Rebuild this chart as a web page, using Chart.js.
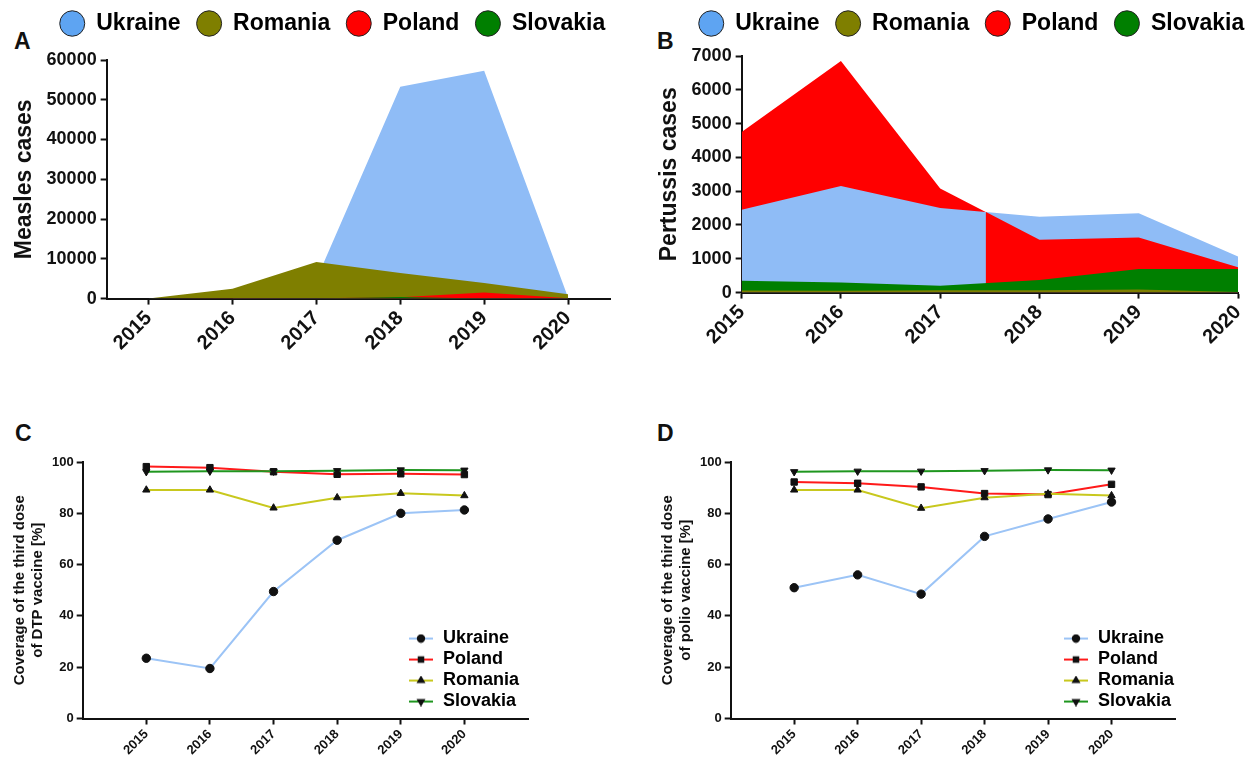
<!DOCTYPE html>
<html>
<head>
<meta charset="utf-8">
<title>Measles, pertussis and vaccine coverage</title>
<script src="https://cdn.jsdelivr.net/npm/chart.js@4.4.1/dist/chart.umd.min.js"></script>
<style>
  html, body { margin: 0; padding: 0; background: #fff; }
  body { position: relative; width: 1245px; height: 768px; overflow: hidden; font-family: "Liberation Sans", Arial, sans-serif; }
  .panel { position: absolute; }
  .letter { position: absolute; font-weight: bold; font-size: 23px; line-height: 1; color: #111; }
</style>
</head>
<body>
<div class="letter" style="left:14px;top:30px">A</div>
<div class="letter" style="left:657px;top:30px">B</div>
<div class="letter" style="left:15px;top:422px">C</div>
<div class="letter" style="left:657px;top:422px">D</div>

<div class="panel" style="left:0;top:0;width:625px;height:390px"><canvas id="chartA"></canvas></div>
<div class="panel" style="left:625px;top:0;width:632px;height:390px"><canvas id="chartB"></canvas></div>
<div class="panel" style="left:0;top:420px;width:625px;height:348px"><canvas id="chartC"></canvas></div>
<div class="panel" style="left:625px;top:420px;width:620px;height:348px"><canvas id="chartD"></canvas></div>

<script>
// ---- data ----
const years = ['2015', '2016', '2017', '2018', '2019', '2020']
const legendOrder = ['Ukraine', 'Romania', 'Poland', 'Slovakia']

// A: measles cases
const measlesUkraine = [105, 90, 4780, 53300, 57300, 270]
const measlesRomania = [7, 2450, 9170, 6420, 3900, 1100]
const measlesPoland = [48, 132, 63, 359, 1500, 100]
const measlesSlovakia = [0, 0, 5, 400, 20, 0]

// B: pertussis cases
const pertussisUkraine = [2450, 3150, 2500, 2240, 2350, 1070]
const pertussisRomania = [60, 55, 65, 70, 90, 20]
const pertussisPoland = [4750, 6850, 3080, 1565, 1630, 750]
const pertussisSlovakia = [350, 300, 205, 375, 700, 700]

// C: third dose DTP coverage [%]
const dtpUkraine = [23.5, 19.5, 49.5, 69.5, 80, 81.3]
const dtpPoland = [98.2, 97.8, 96.2, 95.2, 95.4, 95.1]
const dtpRomania = [89.1, 89.1, 82.1, 86.1, 87.8, 86.9]
const dtpSlovakia = [96.2, 96.4, 96.4, 96.6, 96.9, 96.8]

// D: third dose polio coverage [%]
const polioUkraine = [51, 56, 48.5, 71, 77.8, 84.4]
const polioPoland = [92.2, 91.7, 90.3, 87.7, 87.3, 91.3]
const polioRomania = [89.1, 89.1, 82, 86.1, 87.6, 86.9]
const polioSlovakia = [96.2, 96.4, 96.4, 96.6, 96.9, 96.8]

// ---- styles ----
const FONT = '"Liberation Sans", Arial, sans-serif'
const bold = size => ({ family: FONT, size: size, weight: 'bold' })

const areaColors = { Ukraine: '#8fbcf6', Romania: '#7f7f00', Poland: '#ff0000', Slovakia: '#007f00' }
const legendColors = { Ukraine: '#5ea4f2', Romania: '#7f7f00', Poland: '#ff0000', Slovakia: '#007f00' }
const lineColors = { Ukraine: '#9cc4f6', Poland: '#ff1a1a', Romania: '#c8c81e', Slovakia: '#1f961f' }

Chart.defaults.font.family = FONT
Chart.defaults.color = '#111'

const axisLines = {
  grid: { display: true, drawOnChartArea: false, drawTicks: true, tickLength: 6, tickWidth: 2, tickColor: '#111' },
  border: { display: true, color: '#111', width: 2 }
}

// moves the legend: extra gap under a top legend, shift it, or put it inside the plot corner
const legendPlace = {
  id: 'legendPlace',
  beforeInit(chart, args, opts) {
    const legend = chart.legend
    const fit = legend.fit
    legend.fit = function () {
      fit.call(this)
      if (opts.gap) this.height += opts.gap
    }
  },
  afterLayout(chart, args, opts) {
    const legend = chart.legend
    if (opts.inside) {
      const a = chart.chartArea
      const pad = legend.options.labels.padding
      legend.left = a.right + opts.dx - pad
      legend.right = legend.left + legend.width
      legend.bottom = a.bottom + opts.dy
    } else {
      legend.left += opts.dx || 0
      legend.right += opts.dx || 0
      legend.top += opts.dy || 0
      legend.bottom += opts.dy || 0
    }
  }
}

function area(label, data) {
  return {
    label: label,
    data: data,
    fill: 'origin',
    backgroundColor: areaColors[label],
    borderColor: 'rgba(0,0,0,0)',
    borderWidth: 0,
    pointRadius: 0,
    tension: 0
  }
}

const topLegend = {
  position: 'top',
  labels: {
    usePointStyle: true,
    pointStyleWidth: 25,
    boxHeight: 18,
    padding: 16,
    font: bold(23),
    color: '#111',
    generateLabels: () => legendOrder.map(name => ({
      text: name,
      fillStyle: legendColors[name],
      strokeStyle: '#222',
      lineWidth: 1,
      pointStyle: 'circle',
      hidden: false
    }))
  }
}

function areaOptions(title, max, step, offset, padding, place) {
  return {
    responsive: true,
    maintainAspectRatio: false,
    animation: false,
    layout: { padding: padding },
    plugins: { legend: topLegend, legendPlace: place, tooltip: { enabled: false } },
    scales: {
      x: {
        offset: offset,
        ...axisLines,
        ticks: { font: bold(20), color: '#111', maxRotation: 45, minRotation: 45, padding: 2 }
      },
      y: {
        min: 0,
        max: max,
        ...axisLines,
        ticks: { stepSize: step, font: bold(18), color: '#111', padding: 4, callback: v => v },
        title: { display: true, text: title, font: bold(23), color: '#111', padding: 4 }
      }
    }
  }
}

// chart A - overlapping areas, the first dataset is drawn last (on top)
new Chart(document.getElementById('chartA'), {
  type: 'line',
  data: {
    labels: years,
    datasets: [
      area('Slovakia', measlesSlovakia),
      area('Poland', measlesPoland),
      area('Romania', measlesRomania),
      area('Ukraine', measlesUkraine)
    ]
  },
  options: areaOptions('Measles cases', 60000, 10000, true,
    { left: 7, right: 15, top: 2, bottom: 33 }, { gap: 9, dx: 24, dy: -6 }),
  plugins: [legendPlace]
})

// chart B - Poland shows behind Ukraine up to ~2017.45, in front after it
const cutAt = 2.46
const cutPlugin = {
  id: 'cut',
  afterDatasetDraw(chart, args) {
    const ds = chart.data.datasets
    const ctx = chart.ctx
    const a = chart.chartArea
    if (ds[args.index - 1] && ds[args.index - 1].front) {
      const x = chart.scales.x.getPixelForValue(cutAt)
      ctx.save()
      ctx.beginPath()
      ctx.rect(x, a.top - 2, a.right - x + 2, a.bottom - a.top + 2)
      ctx.clip()
    }
    if (ds[args.index].front) ctx.restore()
  }
}

const polandFront = area('Poland', pertussisPoland)
polandFront.front = true

new Chart(document.getElementById('chartB'), {
  type: 'line',
  data: {
    labels: years,
    datasets: [
      area('Romania', pertussisRomania),
      area('Slovakia', pertussisSlovakia),
      polandFront,
      area('Ukraine', pertussisUkraine),
      area('Poland', pertussisPoland)
    ]
  },
  options: areaOptions('Pertussis cases', 7000, 1000, false,
    { left: 27, right: 0, top: 2, bottom: 39 }, { gap: 5, dx: 17, dy: -6 }),
  plugins: [legendPlace, cutPlugin]
})

// charts C and D - line + marker coverage
function legendIcon(color, style, rotation) {
  const c = document.createElement('canvas')
  c.width = 26
  c.height = 10
  const g = c.getContext('2d')
  g.strokeStyle = color
  g.lineWidth = 2
  g.beginPath()
  g.moveTo(1, 5)
  g.lineTo(25, 5)
  g.stroke()
  g.fillStyle = '#111'
  g.strokeStyle = '#111'
  Chart.helpers.drawPoint(g, { pointStyle: style, rotation: rotation, radius: 3.2, borderWidth: 1 }, 13, 5)
  return c
}

const markers = {
  Ukraine: ['circle', 0],
  Poland: ['rect', 0],
  Romania: ['triangle', 0],
  Slovakia: ['triangle', 180]
}

function line(label, values) {
  return {
    label: label,
    data: years.map((y, i) => ({ x: Number(y), y: values[i] })),
    borderColor: lineColors[label],
    borderWidth: 2,
    backgroundColor: '#111',
    pointBackgroundColor: '#111',
    pointBorderColor: '#111',
    pointBorderWidth: 1,
    pointStyle: markers[label][0],
    rotation: markers[label][1],
    pointRadius: label === 'Poland' ? 4.5 : 4.2,
    tension: 0,
    fill: false
  }
}

function coverageChart(id, titleLines, series, padding, place) {
  const names = ['Ukraine', 'Poland', 'Romania', 'Slovakia']
  return new Chart(document.getElementById(id), {
    type: 'line',
    data: { datasets: names.map(n => line(n, series[n])).reverse() },
    options: {
      responsive: true,
      maintainAspectRatio: false,
      animation: false,
      layout: { padding: padding },
      plugins: {
        tooltip: { enabled: false },
        legendPlace: place,
        legend: {
          position: 'chartArea',
          align: 'end',
          labels: {
            usePointStyle: true,
            boxHeight: 10,
            pointStyleWidth: 26,
            padding: 3,
            font: bold(18),
            color: '#111',
            generateLabels: () => names.map(n => ({
              text: n,
              pointStyle: legendIcon(lineColors[n], markers[n][0], markers[n][1]),
              fillStyle: '#111',
              strokeStyle: '#111',
              lineWidth: 0,
              hidden: false
            }))
          }
        }
      },
      scales: {
        x: {
          type: 'linear',
          min: 2014,
          max: 2021,
          ...axisLines,
          afterBuildTicks: scale => {
            scale.ticks = years.map(y => ({ value: Number(y) }))
          },
          ticks: { font: bold(13), color: '#111', maxRotation: 45, minRotation: 45, callback: v => String(v), padding: 2 }
        },
        y: {
          min: 0,
          max: 100,
          ...axisLines,
          ticks: { stepSize: 20, font: bold(13), color: '#111', padding: 3 },
          title: { display: true, text: titleLines, font: bold(15), color: '#111', padding: 2 }
        }
      }
    },
    plugins: [legendPlace]
  })
}

coverageChart('chartC', ['Coverage of the third dose', 'of DTP vaccine [%]'],
  { Ukraine: dtpUkraine, Poland: dtpPoland, Romania: dtpRomania, Slovakia: dtpSlovakia },
  { left: 9, right: 97, top: 42, bottom: 8 }, { inside: true, dx: -120, dy: -5 })

coverageChart('chartD', ['Coverage of the third dose', 'of polio vaccine [%]'],
  { Ukraine: polioUkraine, Poland: polioPoland, Romania: polioRomania, Slovakia: polioSlovakia },
  { left: 32, right: 70, top: 42, bottom: 8 }, { inside: true, dx: -112, dy: -5 })
</script>
</body>
</html>
